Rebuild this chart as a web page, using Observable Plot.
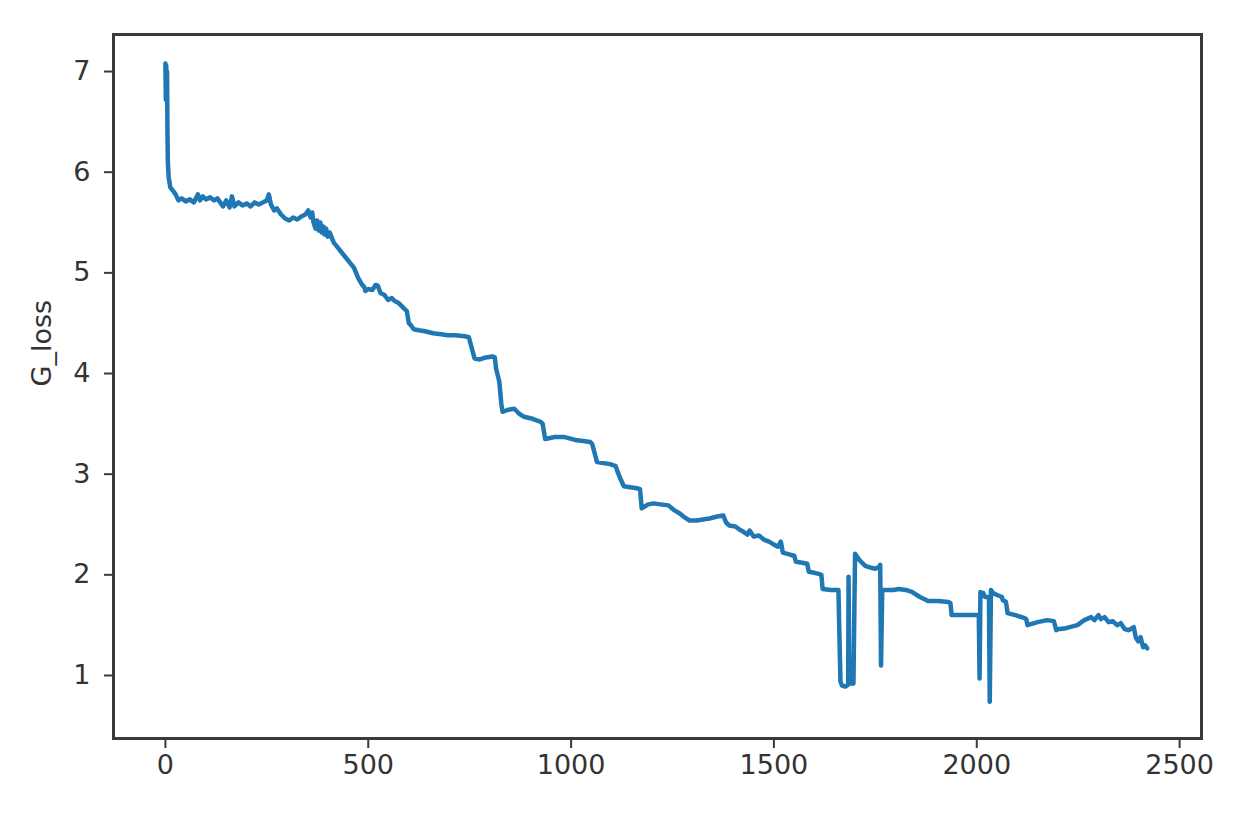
<!DOCTYPE html>
<html>
<head>
<meta charset="utf-8">
<script src="https://cdn.jsdelivr.net/npm/d3@7"></script>
<script src="https://cdn.jsdelivr.net/npm/@observablehq/plot@0.6"></script>
<style>
  html, body { margin: 0; padding: 0; background: #fff; }
  #chart { width: 1244px; height: 819px; }
</style>
</head>
<body>
<div id="chart"></div>
<script>
// Iteration steps
const steps = [0,1,2,3,4,5,6,8,12,18,25,32,40,50,60,70,80,85,92,100,110,120,128,135,142,150,158,164,170,180,190,200,210,220,230,240,250,255,260,268,275,285,295,305,315,325,335,345,352,358,362,365,370,374,378,382,385,390,392,396,400,405,408,415,425,435,445,455,465,475,485,490,493,500,510,518,524,530,540,549,558,565,575,585,595,600,605,612,625,640,660,680,696,715,738,748,752,762,775,790,806,812,815,823,828,831,845,860,872,884,905,925,930,936,960,982,1010,1030,1047,1052,1064,1080,1096,1110,1115,1121,1130,1145,1162,1170,1174,1190,1203,1220,1240,1255,1268,1280,1292,1310,1325,1341,1360,1375,1382,1390,1405,1415,1424,1435,1440,1450,1463,1475,1488,1500,1510,1517,1522,1540,1550,1554,1570,1582,1586,1600,1610,1617,1620,1640,1659,1662,1664,1668,1676,1683,1684,1686,1696,1700,1712,1725,1740,1750,1760,1762,1764,1767,1780,1795,1807,1825,1840,1860,1880,1905,1930,1935,1938,1960,1995,2005,2007,2009,2013,2016,2020,2030,2032,2035,2040,2050,2062,2064,2072,2076,2095,2118,2122,2125,2150,2174,2190,2196,2199,2220,2248,2265,2282,2290,2300,2306,2315,2325,2335,2346,2355,2365,2375,2387,2392,2398,2404,2410,2415,2420,2427];
// G_loss values
const gLoss = [7.08,6.72,7.06,6.78,7.0,6.4,6.1,5.95,5.85,5.82,5.78,5.72,5.74,5.71,5.73,5.7,5.78,5.72,5.76,5.73,5.75,5.72,5.74,5.7,5.66,5.72,5.65,5.76,5.66,5.7,5.67,5.69,5.66,5.7,5.68,5.7,5.72,5.78,5.68,5.62,5.64,5.58,5.54,5.52,5.55,5.53,5.56,5.58,5.62,5.55,5.6,5.5,5.44,5.52,5.42,5.5,5.4,5.46,5.38,5.44,5.36,5.4,5.37,5.3,5.25,5.2,5.15,5.1,5.05,4.95,4.88,4.86,4.82,4.84,4.83,4.88,4.87,4.8,4.78,4.73,4.75,4.72,4.7,4.66,4.62,4.5,4.48,4.44,4.43,4.42,4.4,4.39,4.38,4.38,4.37,4.36,4.3,4.15,4.14,4.16,4.17,4.16,4.05,3.92,3.7,3.62,3.64,3.65,3.6,3.57,3.55,3.52,3.5,3.35,3.37,3.37,3.34,3.33,3.32,3.3,3.12,3.11,3.1,3.08,3.02,2.96,2.88,2.87,2.86,2.85,2.66,2.7,2.71,2.7,2.69,2.64,2.61,2.57,2.54,2.54,2.55,2.56,2.58,2.59,2.52,2.49,2.48,2.45,2.43,2.4,2.44,2.38,2.39,2.35,2.33,2.3,2.28,2.33,2.22,2.2,2.19,2.13,2.12,2.11,2.03,2.02,2.01,2.0,1.86,1.85,1.85,1.3,0.94,0.9,0.89,0.91,1.98,0.92,0.92,2.21,2.14,2.09,2.07,2.06,2.08,2.1,1.1,1.85,1.85,1.85,1.86,1.85,1.83,1.78,1.74,1.74,1.73,1.72,1.6,1.6,1.6,1.6,0.97,1.83,1.8,1.82,1.78,1.78,0.74,1.85,1.82,1.8,1.78,1.75,1.73,1.62,1.6,1.57,1.56,1.5,1.53,1.55,1.54,1.45,1.46,1.47,1.5,1.55,1.58,1.55,1.6,1.56,1.58,1.53,1.54,1.5,1.52,1.46,1.45,1.48,1.38,1.34,1.38,1.28,1.3,1.27];
const xTicks = [0, 500, 1000, 1500, 2000, 2500];
const yTicks = [1, 2, 3, 4, 5, 6, 7];
const yLabel = "G_loss";

const data = steps.map((s, i) => ({step: s, loss: gLoss[i]}));

const chart = Plot.plot({
  width: 1244,
  height: 819,
  marginLeft: 113,
  marginRight: 43,
  marginTop: 34,
  marginBottom: 81,
  style: {fontFamily: "DejaVu Sans", fontSize: "27px", color: "#333", background: "#fff"},
  x: {domain: [-128, 2554]},
  y: {domain: [0.374, 7.368]},
  marks: [
    Plot.line(data, {x: "step", y: "loss", stroke: "#1f77b4", strokeWidth: 4.5, strokeLinejoin: "round", strokeLinecap: "round"}),
    Plot.frame({stroke: "#3a3a3a", strokeWidth: 3}),
    Plot.axisX({ticks: xTicks, tickFormat: d => String(d), tickSize: 10, tickPadding: 6, stroke: "#3a3a3a", strokeWidth: 2, fill: "#333", fontSize: 27, label: null}),
    Plot.axisY({ticks: yTicks, tickFormat: d => String(d), tickSize: 9, tickPadding: 14, stroke: "#3a3a3a", strokeWidth: 2, fill: "#333", fontSize: 27, label: null}),
    Plot.text([yLabel], {frameAnchor: "left", rotate: -90, dx: -71, fill: "#333", fontSize: 27, text: d => d})
  ]
});
document.getElementById("chart").appendChild(chart);
</script>
</body>
</html>
